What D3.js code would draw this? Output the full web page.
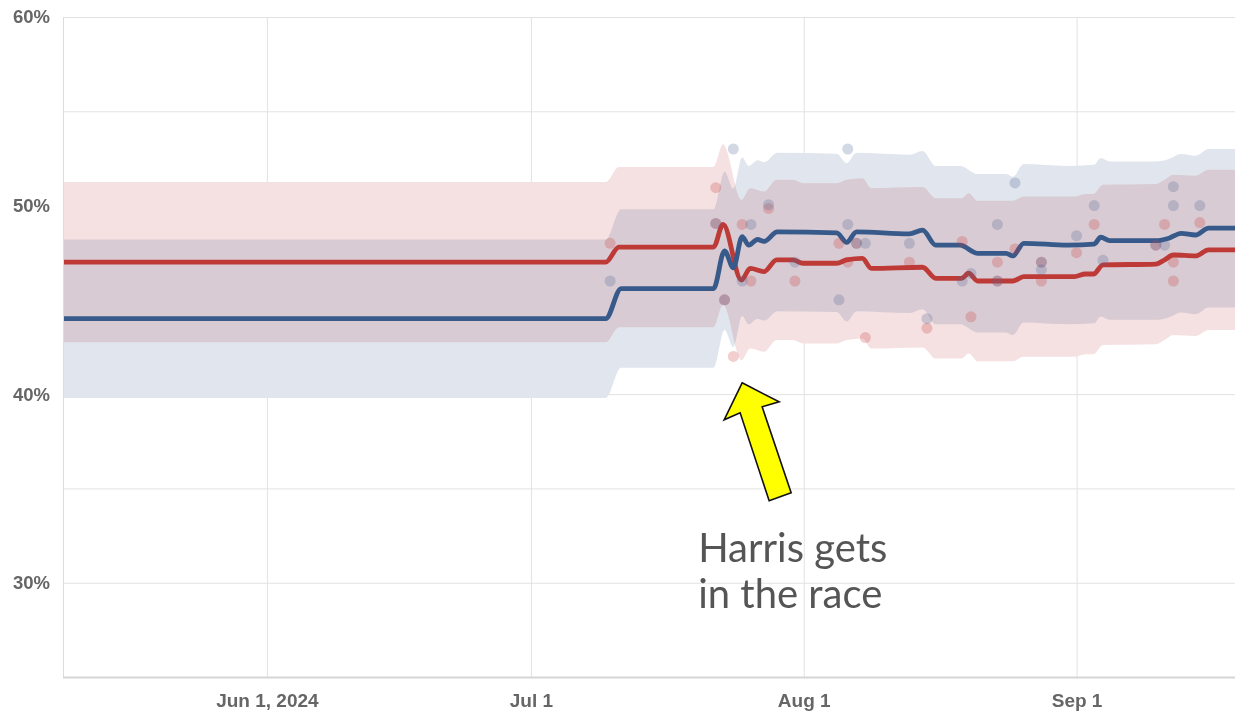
<!DOCTYPE html>
<html>
<head>
<meta charset="utf-8">
<script src="https://cdn.jsdelivr.net/npm/d3@7"></script>
<style>
  html, body { margin: 0; padding: 0; background: #ffffff; }
  svg { display: block; }
</style>
</head>
<body>
<svg id="chart" width="1235" height="713"></svg>
<script>
// ---------------- DATA ----------------
// Polling-average line (Harris, blue)
const blueDates = ["2024-05-08","2024-07-09 12","2024-07-11 06","2024-07-21 18","2024-07-23","2024-07-24","2024-07-25",
  "2024-07-25 18","2024-07-26 18","2024-07-27 12","2024-07-29","2024-08-04 18","2024-08-05 21","2024-08-07","2024-08-13",
  "2024-08-14 12","2024-08-16","2024-08-18 18","2024-08-20 18","2024-08-24","2024-08-24 18","2024-08-26","2024-08-31",
  "2024-09-03","2024-09-03 18","2024-09-04 18","2024-09-10","2024-09-11 12","2024-09-12 21","2024-09-14 12","2024-09-16","2024-09-19"];
const blueValues = [44.0,44.0,45.6,45.6,47.6,46.7,48.35,
  47.9,48.2,48.1,48.6,48.55,48.05,48.6,48.5,
  48.7,47.9,47.9,47.47,47.47,47.33,48.0,47.9,
  47.96,48.32,48.14,48.14,48.27,48.53,48.44,48.8,48.8];

// Polling-average line (Trump, red)
const redDates = ["2024-05-08","2024-07-09 12","2024-07-11","2024-07-21 18","2024-07-22 20","2024-07-24 22","2024-07-25 22",
  "2024-07-27 12","2024-07-28 22","2024-07-30 18","2024-07-31 22","2024-08-04 18","2024-08-05 21","2024-08-07 16","2024-08-08 16",
  "2024-08-14 12","2024-08-16","2024-08-18 22","2024-08-19 18","2024-08-20 18","2024-08-24 18","2024-08-26","2024-08-31 18",
  "2024-09-02","2024-09-02 22","2024-09-04","2024-09-10","2024-09-11","2024-09-12","2024-09-14 12","2024-09-16","2024-09-19"];
const redValues = [47.0,47.0,47.8,47.8,49.0,46.05,46.67,
  46.5,47.12,47.12,46.94,46.94,47.12,47.2,46.67,
  46.73,46.14,46.14,46.41,46.0,46.0,46.23,46.23,
  46.37,46.37,46.85,46.9,47.12,47.38,47.33,47.65,47.65];

// Uncertainty half-width of the shaded bands (percentage points)
const blueBand = 4.2;
const redBand = 4.25;

// Individual polls
const bluePollDates = ["2024-07-10","2024-07-22","2024-07-23","2024-07-24","2024-07-25","2024-07-26","2024-07-28","2024-07-31",
  "2024-08-05","2024-08-06","2024-08-06","2024-08-07","2024-08-08","2024-08-13","2024-08-15","2024-08-19","2024-08-20",
  "2024-08-23","2024-08-23","2024-08-25","2024-08-28","2024-08-28","2024-09-01","2024-09-03","2024-09-04","2024-09-10",
  "2024-09-11","2024-09-12","2024-09-12","2024-09-15"];
const bluePollValues = [46.0,49.05,45.0,53.0,46.0,49.0,50.05,47.0,
  45.0,53.0,49.0,48.0,48.0,48.0,44.0,46.0,46.4,
  49.0,46.0,51.2,47.0,46.6,48.4,50.0,47.1,47.9,
  47.9,51.0,50.0,50.0];
const redPollDates = ["2024-07-10","2024-07-22","2024-07-22","2024-07-23","2024-07-24","2024-07-25","2024-07-26","2024-07-28",
  "2024-07-31","2024-08-05","2024-08-06","2024-08-07","2024-08-08","2024-08-13","2024-08-15","2024-08-19","2024-08-20",
  "2024-08-23","2024-08-23","2024-08-25","2024-08-28","2024-08-28","2024-09-01","2024-09-03","2024-09-10","2024-09-11",
  "2024-09-12","2024-09-12","2024-09-15"];
const redPollValues = [48.0,50.95,49.05,45.0,42.0,49.0,46.0,49.85,
  46.0,48.0,47.0,48.0,43.0,47.0,43.5,48.1,44.1,
  47.0,46.0,47.7,47.0,46.0,47.5,49.0,47.9,49.0,
  47.0,46.0,49.1];

// Axis ticks
const xTickDates = ["2024-06-01","2024-07-01","2024-08-01","2024-09-01"];
const xTickLabels = ["Jun 1, 2024","Jul 1","Aug 1","Sep 1"];
const yGridValues = [25,30,35,40,45,50,55,60];
const yLabelValues = [30,40,50,60];

// Annotation
const annotationLines = ["Harris gets","in the race"];
const annotationDate = "2024-07-25";
const annotationValue = 40.6;

// ---------------- CHART ----------------
const W = 1235, H = 713;
const M = {left: 63, right: 0, top: 17, bottom: 36};
const pW = W - M.left - M.right, pH = H - M.top - M.bottom;

const parseDay = d3.timeParse("%Y-%m-%d");
const parseHour = d3.timeParse("%Y-%m-%d %H");
const parse = s => s.length > 10 ? parseHour(s) : parseDay(s);

const svg = d3.select("#chart");
svg.append("rect").attr("width", W).attr("height", H).attr("fill", "#ffffff");

const x = d3.scaleTime()
  .domain([new Date(2024, 4, 8, 20), new Date(2024, 8, 19, 0)])
  .range([M.left, W - M.right]);
const y = d3.scaleLinear().domain([25, 60]).range([H - M.bottom, M.top]);

const blue = blueDates.map((d, i) => ({date: parse(d), v: blueValues[i]}));
const red = redDates.map((d, i) => ({date: parse(d), v: redValues[i]}));

svg.append("defs").append("clipPath").attr("id", "clip")
  .append("rect").attr("x", M.left).attr("y", M.top - 5).attr("width", pW).attr("height", pH + 5);

// Gridlines
const yGrid = svg.append("g").attr("transform", `translate(${M.left},0)`)
  .call(d3.axisLeft(y).tickValues(yGridValues).tickSize(-pW).tickFormat(""));
yGrid.select(".domain").remove();
yGrid.selectAll("line").attr("stroke", "#e2e2e2").attr("stroke-width", 1);

const xGrid = svg.append("g").attr("transform", `translate(0,${H - M.bottom})`)
  .call(d3.axisBottom(x).tickValues(xTickDates.map(parse)).tickSize(-pH).tickFormat(""));
xGrid.select(".domain").remove();
xGrid.selectAll("line").attr("stroke", "#e2e2e2").attr("stroke-width", 1);

// Bands
const plot = svg.append("g").attr("clip-path", "url(#clip)");
const band = (hw) => d3.area()
  .x(d => x(d.date)).y0(d => y(d.v - hw)).y1(d => y(d.v + hw))
  .curve(d3.curveMonotoneX);

plot.append("path").datum(blue).attr("d", band(blueBand))
  .attr("fill", "#e1e6ee").style("mix-blend-mode", "multiply");
plot.append("path").datum(red).attr("d", band(redBand))
  .attr("fill", "#f5e1e2").style("mix-blend-mode", "multiply");

// Axis lines
svg.append("line").attr("x1", M.left + 0.5).attr("x2", M.left + 0.5)
  .attr("y1", M.top).attr("y2", H - M.bottom).attr("stroke", "#dcdcdc").attr("stroke-width", 1);
svg.append("line").attr("x1", M.left).attr("x2", W)
  .attr("y1", H - M.bottom + 0.5).attr("y2", H - M.bottom + 0.5).attr("stroke", "#d6d6d6").attr("stroke-width", 2);

// Lines
const line = d3.line().x(d => x(d.date)).y(d => y(d.v)).curve(d3.curveMonotoneX);
plot.append("path").datum(red).attr("d", line).attr("fill", "none")
  .attr("stroke", "#be3a36").attr("stroke-width", 4.8).attr("stroke-linejoin", "round");
plot.append("path").datum(blue).attr("d", line).attr("fill", "none")
  .attr("stroke", "#375a8b").attr("stroke-width", 4.8).attr("stroke-linejoin", "round");

// Polls
plot.selectAll("circle.red").data(redPollDates.map((d, i) => ({date: parse(d), v: redPollValues[i]})))
  .join("circle").attr("class", "red")
  .attr("cx", d => x(d.date)).attr("cy", d => y(d.v)).attr("r", 5.5)
  .attr("fill", "#cc3a3a").attr("fill-opacity", 0.25);
plot.selectAll("circle.blue").data(bluePollDates.map((d, i) => ({date: parse(d), v: bluePollValues[i]})))
  .join("circle").attr("class", "blue")
  .attr("cx", d => x(d.date)).attr("cy", d => y(d.v)).attr("r", 5.5)
  .attr("fill", "#4a6592").attr("fill-opacity", 0.25);

// Axis labels
const yAx = svg.append("g").attr("transform", `translate(${M.left},0)`)
  .call(d3.axisLeft(y).tickValues(yLabelValues).tickSize(0).tickPadding(13).tickFormat(d => d + "%"));
yAx.select(".domain").remove();
yAx.selectAll("text").attr("font-family", "'Liberation Sans', Arial, sans-serif")
  .attr("font-weight", "bold").attr("font-size", 18.5).attr("fill", "#666666");

const xAx = svg.append("g").attr("transform", `translate(0,${H - M.bottom})`)
  .call(d3.axisBottom(x).tickValues(xTickDates.map(parse)).tickSize(0).tickPadding(17)
    .tickFormat((d, i) => xTickLabels[i]));
xAx.select(".domain").remove();
xAx.selectAll("text").attr("font-family", "'Liberation Sans', Arial, sans-serif")
  .attr("font-weight", "bold").attr("font-size", 19).attr("fill", "#666666");

// Annotation arrow (anchored at the data point it points to)
const tx = x(parse(annotationDate)), ty = y(annotationValue);
const arrowPts = [[0,0],[37,19],[20,24],[49,110],[27,118],[-2,30],[-18,37]];
svg.append("path")
  .attr("d", d3.line()(arrowPts.map(p => [tx + p[0], ty + p[1]])) + "Z")
  .attr("fill", "#ffff00").attr("stroke", "#111111").attr("stroke-width", 1.6)
  .attr("stroke-linejoin", "miter");

const ann = svg.append("text").attr("font-family", "Lato, 'Open Sans', sans-serif")
  .attr("font-size", 40).attr("fill", "#555555");
annotationLines.forEach((t, i) => {
  ann.append("tspan").attr("x", tx - 44).attr("y", ty + 179 + i * 46.5).text(t);
});
</script>
</body>
</html>
